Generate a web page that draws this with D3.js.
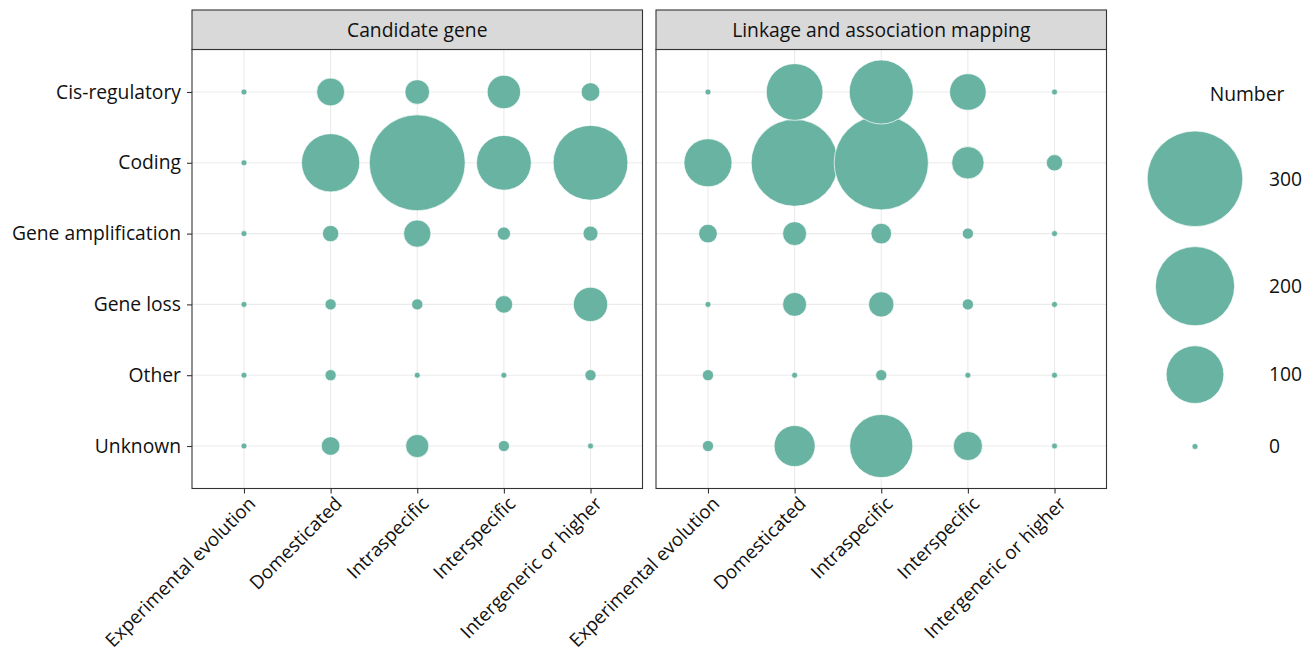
<!DOCTYPE html>
<html>
<head>
<meta charset="utf-8">
<script src="https://cdn.jsdelivr.net/npm/d3@7"></script>
<style>
  body { margin: 0; background: #fff; }
  text { font-family: "Open Sans", sans-serif; fill: #111; }
</style>
</head>
<body>
<div id="chart"></div>
<script>
// categories
const facets = ['Candidate gene', 'Linkage and association mapping'];
const levels = ['Experimental evolution', 'Domesticated', 'Intraspecific', 'Interspecific', 'Intergeneric or higher'];
const mechanisms = ['Cis-regulatory', 'Coding', 'Gene amplification', 'Gene loss', 'Other', 'Unknown'];

// counts per mechanism (rows) x level (columns)
const candidateGene = [
  [0, 18, 13, 28, 6],
  [0, 102, 302, 89, 177],
  [0, 4, 17, 2, 3],
  [0, 1, 1, 5, 30],
  [0, 1, 0, 0, 1],
  [0, 6, 11, 1, 0]
];
const linkageMapping = [
  [0, 96, 126, 35, 0],
  [66, 245, 291, 26, 4],
  [6, 12, 8, 1, 0],
  [0, 12, 14, 1, 0],
  [1, 0, 1, 0, 0],
  [1, 46, 122, 20, 0]
];
const legendBreaks = [300, 200, 100, 0];

const W = 1312, H = 656;
const margin = {top: 10, left: 192, bottom: 488.5};
const panelW = 450.5, panelGap = 13.5, stripH = 39.5;
const fillColor = '#69b3a2';
const fs = 19.3;

const svg = d3.select('#chart').append('svg')
  .attr('width', W).attr('height', H);

const r = d3.scaleSqrt().domain([0, 300]).range([3, 47.8]);

const y = d3.scalePoint().domain(mechanisms)
  .range([margin.top + stripH, margin.bottom]).padding(0.6);

function drawPanel(i, data) {
  const x0 = margin.left + i * (panelW + panelGap);
  const x = d3.scalePoint().domain(levels).range([x0, x0 + panelW]).padding(0.6);
  const g = svg.append('g');
  const top = margin.top + stripH;

  // grid
  g.selectAll('.vgrid').data(levels).enter().append('line')
    .attr('x1', d => x(d)).attr('x2', d => x(d))
    .attr('y1', top).attr('y2', margin.bottom)
    .attr('stroke', '#ebebeb').attr('stroke-width', 1.1);
  g.selectAll('.hgrid').data(mechanisms).enter().append('line')
    .attr('x1', x0).attr('x2', x0 + panelW)
    .attr('y1', d => y(d)).attr('y2', d => y(d))
    .attr('stroke', '#ebebeb').attr('stroke-width', 1.1);

  // points, drawn bottom row first so upper rows sit on top
  const pts = [];
  for (let m = mechanisms.length - 1; m >= 0; m--) {
    levels.forEach((l, j) => pts.push({mech: mechanisms[m], level: l, n: data[m][j]}));
  }
  const clip = 'clip' + i;
  svg.append('clipPath').attr('id', clip).append('rect')
    .attr('x', x0).attr('y', top).attr('width', panelW).attr('height', margin.bottom - top);
  g.append('g').attr('clip-path', `url(#${clip})`)
    .selectAll('circle').data(pts).enter().append('circle')
    .attr('cx', d => x(d.level)).attr('cy', d => y(d.mech))
    .attr('r', d => r(d.n))
    .attr('fill', fillColor).attr('stroke', '#fff').attr('stroke-width', 0.7);

  // panel border
  g.append('rect').attr('x', x0).attr('y', top).attr('width', panelW).attr('height', margin.bottom - top)
    .attr('fill', 'none').attr('stroke', '#333').attr('stroke-width', 1.1);

  // strip
  g.append('rect').attr('x', x0).attr('y', margin.top).attr('width', panelW).attr('height', stripH)
    .attr('fill', '#d9d9d9').attr('stroke', '#333').attr('stroke-width', 1.1);
  g.append('text').attr('x', x0 + panelW / 2).attr('y', margin.top + stripH / 2)
    .attr('dy', '0.35em').attr('text-anchor', 'middle').attr('font-size', fs)
    .text(facets[i]);

  // x axis
  const xAxis = g.append('g').attr('transform', `translate(0,${margin.bottom})`)
    .call(d3.axisBottom(x).tickSize(5).tickPadding(3));
  xAxis.select('.domain').remove();
  xAxis.selectAll('.tick line').attr('stroke', '#333').attr('stroke-width', 1.1);
  xAxis.selectAll('.tick text')
    .attr('font-size', 18.8).attr('font-family', '"Open Sans", sans-serif').attr('fill', '#111')
    .attr('text-anchor', 'end')
    .attr('transform', 'rotate(-45)')
    .attr('x', -3).attr('y', 7).attr('dy', '0.7em');

  // y axis only on the first panel
  if (i === 0) {
    const yAxis = g.append('g').attr('transform', `translate(${x0},0)`)
      .call(d3.axisLeft(y).tickSize(5).tickPadding(6));
    yAxis.select('.domain').remove();
    yAxis.selectAll('.tick line').attr('stroke', '#333').attr('stroke-width', 1.1);
    yAxis.selectAll('.tick text')
      .attr('font-size', fs).attr('font-family', '"Open Sans", sans-serif').attr('fill', '#111');
  }
}

drawPanel(0, candidateGene);
drawPanel(1, linkageMapping);

// legend
const lg = svg.append('g').attr('transform', 'translate(1195,0)');
lg.append('text').attr('x', 52).attr('y', 101).attr('text-anchor', 'middle')
  .attr('font-size', fs).text('Number');
let cy = 121;
legendBreaks.forEach(v => {
  const h = Math.max(2 * r(v) + 20, 66);
  const c = cy + h / 2;
  lg.append('circle').attr('cx', 0).attr('cy', c).attr('r', r(v))
    .attr('fill', fillColor).attr('stroke', '#fff').attr('stroke-width', 0.7);
  lg.append('text').attr('x', 74).attr('y', c).attr('dy', '0.35em')
    .attr('font-size', fs).text(v);
  cy += h;
});
</script>
</body>
</html>
